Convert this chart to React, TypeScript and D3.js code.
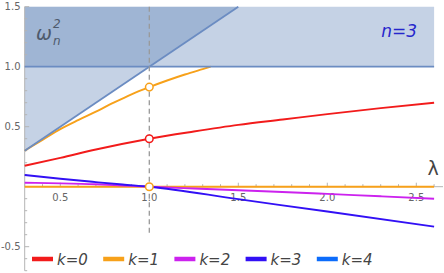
import React from 'react'
import * as d3 from 'd3'

// dispersion branches (lambda, omega^2)
const lambdaK0 = [0.3, 0.5, 0.7, 1.0, 1.25, 1.5, 1.75, 2.0, 2.3, 2.6]
const omegaK0 = [0.175, 0.24, 0.31, 0.40, 0.46, 0.515, 0.56, 0.605, 0.655, 0.70]

const lambdaK1 = [0.3, 0.4, 0.5, 0.6, 0.7, 0.8, 0.9, 1.0, 1.1, 1.2, 1.3, 1.345]
const omegaK1 = [0.30, 0.39, 0.48, 0.555, 0.625, 0.70, 0.77, 0.83, 0.885, 0.935, 0.98, 1.0]

const lambdaK1b = [0.3, 2.6]
const omegaK1b = [0, 0]

const lambdaK2 = [0.3, 0.5, 0.7, 0.85, 1.0, 1.25, 1.5, 1.85, 2.0, 2.3, 2.6]
const omegaK2 = [0.033, 0.028, 0.02, 0.01, 0, -0.015, -0.03, -0.05, -0.06, -0.08, -0.10]

const lambdaK3 = [0.3, 0.5, 0.7, 0.85, 1.0, 1.5, 2.0, 2.6]
const omegaK3 = [0.097, 0.066, 0.038, 0.018, 0, -0.104, -0.207, -0.333]

const markerLambda = 1.0
const markerOmega = [0.40, 0.83, 0]
const markerKey = [0, 1, 1]

const legendKeys = ['k=0', 'k=1', 'k=2', 'k=3', 'k=4']
const keyColors = ['#f21b1b', '#f7a11a', '#cc22ee', '#3210f5', '#0c6cfb']

const xTicks = [0.5, 1.0, 1.5, 2.0, 2.5]
const yTicks = [-0.5, 0.5, 1.0, 1.5]

export default function App() {
  const width = 444
  const height = 273

  const x = d3.scaleLinear().domain([0.3, 2.6]).range([24.7, 434.1])
  const y = d3.scaleLinear().domain([-0.7, 1.5]).range([270.7, 6.7])

  const line = d3.line<[number, number]>()
    .x(d => x(d[0]))
    .y(d => y(d[1]))
    .curve(d3.curveMonotoneX)

  const zip = (a: number[], b: number[]) => a.map((v, i) => [v, b[i]] as [number, number])

  const curves = [
    { pts: zip(lambdaK0, omegaK0), c: keyColors[0] },
    { pts: zip(lambdaK1, omegaK1), c: keyColors[1] },
    { pts: zip(lambdaK1b, omegaK1b), c: keyColors[1] },
    { pts: zip(lambdaK2, omegaK2), c: keyColors[2] },
    { pts: zip(lambdaK3, omegaK3), c: keyColors[3] },
  ]

  const [x0, x1] = x.domain()
  const yTop = y.domain()[1]
  // region omega^2 > lambda and region omega^2 > 1, overlapping
  const regionA = [[x0, x0], [yTop, yTop], [x0, yTop]]
  const regionB = [[x0, 1], [x1, 1], [x1, yTop], [x0, yTop]]
  const poly = (p: number[][]) => p.map(d => `${x(d[0])},${y(d[1])}`).join(' ')

  const xMinor = d3.range(0.3, 2.61, 0.1).map(v => +v.toFixed(2)).filter(v => !xTicks.includes(v))
  const yMinor = d3.range(-0.7, 1.51, 0.1).map(v => +v.toFixed(2)).filter(v => !yTicks.includes(v) && v !== 0)

  const axisColor = '#b4b4b4'
  const regionColor = 'rgb(91,128,182)'
  const edgeColor = '#6b8cc2'

  return (
    <svg width={width} height={height} style={{ position: 'absolute', left: 0, top: 0 }}
      fontFamily="DejaVu Sans">
      {/* shaded regions */}
      <polygon points={poly(regionA)} fill={regionColor} fillOpacity={0.354} />
      <polygon points={poly(regionB)} fill={regionColor} fillOpacity={0.354} />

      {/* axes */}
      <line x1={x(x0)} x2={443} y1={y(0)} y2={y(0)} stroke={axisColor} />
      <line x1={x(x0)} x2={x(x0)} y1={y(1.5)} y2={y(-0.7)} stroke={axisColor} />
      {xTicks.map(t => (
        <g key={'xt' + t}>
          <line x1={x(t)} x2={x(t)} y1={y(0)} y2={y(0) - 4} stroke={axisColor} />
          <text x={x(t)} y={201} fontSize={10} fill="#666" textAnchor="middle">{t.toFixed(1)}</text>
        </g>
      ))}
      {xMinor.map(t => (
        <line key={'xm' + t} x1={x(t)} x2={x(t)} y1={y(0)} y2={y(0) - 2.5} stroke={axisColor} />
      ))}
      {yTicks.map(t => (
        <g key={'yt' + t}>
          <line x1={x(x0)} x2={x(x0) + 4.5} y1={y(t)} y2={y(t)} stroke={axisColor} />
          <text x={20.5} y={y(t) + 3.6} fontSize={10} fill="#666" textAnchor="end">{t.toFixed(1)}</text>
        </g>
      ))}
      {yMinor.map(t => (
        <line key={'ym' + t} x1={x(x0)} x2={x(x0) + 2.5} y1={y(t)} y2={y(t)} stroke={axisColor} />
      ))}

      {/* curves */}
      {curves.map((c, i) => (
        <path key={i} d={line(c.pts) || ''} fill="none" stroke={c.c} strokeWidth={1.9} />
      ))}

      {/* region edges */}
      <line x1={x(x0)} x2={x(x1)} y1={y(1)} y2={y(1)} stroke={edgeColor} strokeWidth={1.8} />
      <line x1={x(x0)} x2={x(yTop)} y1={y(x0)} y2={y(yTop)} stroke={edgeColor} strokeWidth={1.8} />

      {/* dashed lambda = 1 */}
      <line x1={x(markerLambda)} x2={x(markerLambda)} y1={y(1.5)} y2={236} stroke="#999"
        strokeWidth={1.3} strokeDasharray="5,3.5" />

      {markerOmega.map((w, i) => (
        <circle key={'m' + i} cx={x(markerLambda)} cy={y(w)} r={3.8} fill="white"
          stroke={keyColors[markerKey[i]]} strokeWidth={1.5} />
      ))}

      {/* labels */}
      <text x={36} y={40} fontSize={19} fontStyle="italic" fill="#4e5a6c">ω</text>
      <text x={53} y={28} fontSize={12} fontStyle="italic" fill="#4e5a6c">2</text>
      <text x={53} y={45} fontSize={12} fontStyle="italic" fill="#4e5a6c">n</text>
      <text x={417} y={37} fontSize={17} fontStyle="italic" fill="#2626cc" textAnchor="end">n=3</text>
      <text x={433} y={175} fontSize={19} fill="#444" textAnchor="middle">λ</text>

      {/* legend */}
      {legendKeys.map((k, i) => (
        <g key={k} transform={`translate(${32 + i * 71.2},259)`}>
          <line x1={0} x2={21} y1={0} y2={0} stroke={keyColors[i]} strokeWidth={4.5} />
          <text x={25} y={5.5} fontSize={15} fontStyle="italic" fill="#444">{k}</text>
        </g>
      ))}
    </svg>
  )
}
